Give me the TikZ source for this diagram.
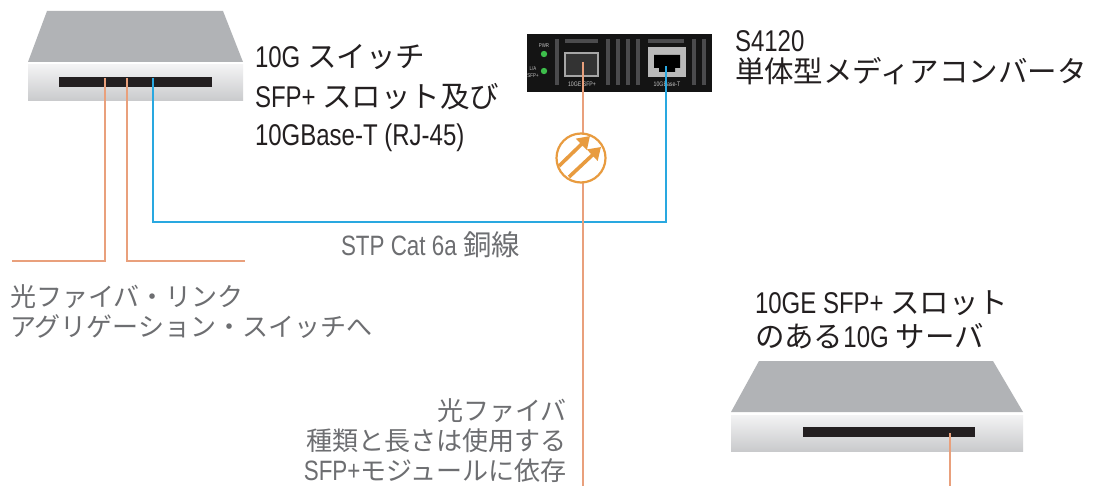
\documentclass[tikz,border=0pt]{standalone}
\usepackage{fontspec}
\setmainfont{Liberation Sans}[FakeStretch=0.8]
\newfontfamily\cjkA{Noto Sans CJK JP}[Scale=0.983]
\newfontfamily\cjkB{Noto Sans CJK JP}[Scale=0.93]
\usetikzlibrary{arrows.meta}

\definecolor{ink}{HTML}{231F20}
\definecolor{note}{HTML}{6D6E71}
\definecolor{fiber}{HTML}{E9A07C}
\definecolor{copper}{HTML}{29A8E0}
\definecolor{lid}{HTML}{B1B3B6}
\definecolor{paneltop}{HTML}{F3F3F4}
\definecolor{panelbot}{HTML}{C9CACC}
\definecolor{slotc}{HTML}{231F20}
\definecolor{optic}{HTML}{E89B3F}
\definecolor{barc}{HTML}{4B4B4D}
\definecolor{ledc}{HTML}{3DBE4B}
\definecolor{tiny}{HTML}{C4C4C4}

\newcommand\jpA[1]{{\cjkA #1}}
\newcommand\jpB[1]{{\cjkB #1}}

\tikzset{
  lbl/.style={inner sep=0pt, outer sep=0pt, text=ink, anchor=base west,
              font=\fontsize{30}{34}\selectfont},
  grylbl/.style={lbl, text=note, font=\fontsize{28}{32}\selectfont},
  fiberline/.style={draw=fiber, line width=2.4pt},
  culine/.style={draw=copper, line width=2.4pt},
  minitext/.style={inner sep=0pt, text=tiny, font=\fontsize{5.5}{6}\selectfont},
  panel/.style={top color=paneltop, bottom color=panelbot},
}

\begin{document}
\begin{tikzpicture}[x=1pt, y=-1pt]
\useasboundingbox (0,0) rectangle (1103,486);
\fill[white] (0,0) rectangle (1103,486);

% ---- 10G switch (upper left)
\fill[lid] (47,11) -- (223,11) -- (243,62) -- (28,62) -- cycle;
\shade[panel] (28,65) rectangle (243,101);
\fill[slotc] (59,77) rectangle (212,87);

% ---- 10G server (lower right)
\fill[lid] (759,361) -- (993,361) -- (1023,412) -- (731,412) -- cycle;
\shade[panel] (731,415) rectangle (1023,451);
\fill[slotc] (803,427) rectangle (975,437);

% ---- S4120 media converter front
\fill[black!92] (527,34) rectangle (712,92);
\foreach \bx in {555,606,616,626,636,692,702}
  \fill[barc] (\bx,39) rectangle ++(4,46);
\fill[barc] (565,39) rectangle (598,43);
\fill[barc] (648,39) rectangle (684,43);
% SFP+ cage
\filldraw[fill=black!80, draw=gray!70, line width=1.2pt] (565,53) rectangle (598,76);
% RJ-45 jack
\fill[gray!55] (648,47) rectangle (686,77);
\fill[black] (654,55) -- (680,55) -- (680,68) -- (675,68) -- (675,72)
             -- (659,72) -- (659,68) -- (654,68) -- cycle;
% status LEDs
\fill[ledc] (544,54) circle (3.2pt);
\fill[ledc] (544,71) circle (3.2pt);
\node[minitext] (pwr) at (544,46) {PWR};
\node[minitext] (la) at (533,69) {L/A};
\node[minitext] (sfpl) at (533,76) {SFP+};
\node[minitext, font=\fontsize{6.5}{7}\selectfont] (sfpport) at (582,84) {10GE SFP+};
\node[minitext, font=\fontsize{6.5}{7}\selectfont] (rjport) at (667,84) {10GBase-T};

% ---- port and cable end points
\coordinate (swF1) at (105,78);
\coordinate (swF2) at (127,78);
\coordinate (swCu) at (153,78);
\coordinate (lagL) at (12,261);
\coordinate (lagR) at (245,261);
\coordinate (cuTurn) at (666,222);
\coordinate (mcRJ) at (666,66);
\coordinate (mcSFP) at (583,62);
\coordinate (fibEnd) at (583,486);
\coordinate (srvPort) at (950,433);
\coordinate (srvEnd) at (950,486);

% ---- cables
\draw[fiberline] (swF1) |- (lagL);
\draw[fiberline] (swF2) |- (lagR);
\draw[culine] (swCu) |- (cuTurn) -- (mcRJ);
\draw[fiberline] (mcSFP) -- (fibEnd);
\draw[fiberline] (srvPort) -- (srvEnd);

% ---- optical transceiver symbol
\node[circle, draw=optic, fill=white, line width=2.2pt, minimum size=49pt,
      inner sep=0pt] (optsym) at (581,158) {};
\draw[optic, line width=3.6pt, -{Triangle[length=12pt,width=15pt]}]
  (559,166) -- (590,136);
\draw[optic, line width=3.6pt, -{Triangle[length=12pt,width=15pt]}]
  (569,177) -- (601,147);

% ---- labels
\node[lbl] (sw1) at (255,68) {10G \jpA{スイッチ}};
\node[lbl] (sw2) at (255,108) {SFP+ \jpA{スロット及び}};
\node[lbl] (sw3) at (255,146) {10GBase-T (RJ-45)};

\node[lbl] (mc1) at (735,52) {S4120};
\node[lbl] (mc2) at (735,83) {\jpA{単体型メディアコンバータ}};

\node[lbl] (sv1) at (755,313) {10GE SFP+ \jpA{スロット}};
\node[lbl] (sv2) at (755,347) {\jpA{のある}10G \jpA{サーバ}};

\node[grylbl] (cu) at (341,256) {STP Cat 6a {\fontsize{30.5}{32}\selectfont\cjkB 銅線}};

\node[grylbl] (lag1) at (10,307) {\jpB{光ファイバ・リンク}};
\node[grylbl] (lag2) at (10,337) {\jpB{アグリゲーション・スイッチへ}};

\node[grylbl, anchor=base east] (fn1) at (567,420) {\jpB{光ファイバ}};
\node[grylbl, anchor=base east] (fn2) at (567,450) {\jpB{種類と長さは使用する}};
\node[grylbl, anchor=base east] (fn3) at (567,480) {SFP+\jpB{モジュールに依存}};
\end{tikzpicture}
\end{document}
